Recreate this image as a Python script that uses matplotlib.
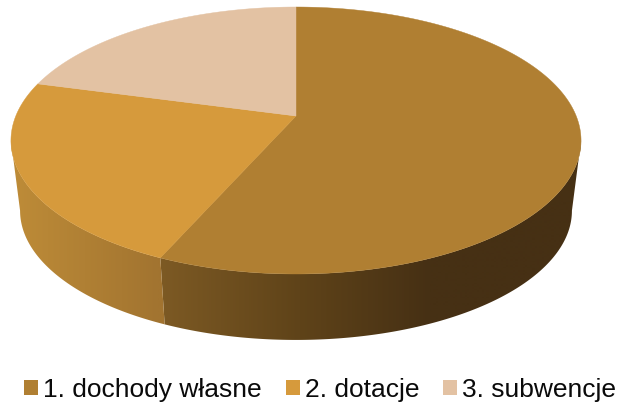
import numpy as np
import matplotlib
matplotlib.use("Agg")
import matplotlib.pyplot as plt
from matplotlib.patches import Polygon, Patch
from matplotlib.colors import to_rgb

plt.rcParams['font.family'] = ['Liberation Sans', 'DejaVu Sans']

categories = ["1. dochody własne", "2. dotacje", "3. subwencje"]
values = [56.6, 22.6, 20.8]
colors = ["#B07F32", "#D69A3C", "#E3C2A3"]

W, H = 617, 403
fig = plt.figure(figsize=(W / 100, H / 100), dpi=100)
ax = fig.add_axes([0, 0, 1, 1])

# projection of the tilted disc
K = 0.1835
A, B = 280.2, 129.0
CX, CY_TOP, CY_LOW, SHR = 296.0, 116.0, 187.0, 0.968


def project(theta, r=1.0, low=False):
    x = r * np.sin(theta)
    y = r * np.cos(theta)
    w = 1 + K * y
    s = SHR if low else 1.0
    cy = CY_LOW if low else CY_TOP
    return CX + s * A * x / w, cy - s * B * y / w


def gradient_wall(t0, t1, stops):
    t = np.linspace(t0, t1, 200)
    xa, ya = project(t)
    xb, yb = project(t[::-1], low=True)
    poly = Polygon(np.c_[np.r_[xa, xb], np.r_[ya, yb]], closed=True, fc="none", ec="none")
    ax.add_patch(poly)
    xs = np.arange(0, W + 1)
    xp = [s[0] for s in stops]
    rgb = np.array([to_rgb(s[1]) for s in stops])
    img = np.stack([np.interp(xs, xp, rgb[:, i]) for i in range(3)], axis=-1)[None, :, :]
    im = ax.imshow(img, extent=(0, W, H, 0), aspect="auto", interpolation="bilinear", zorder=1)
    im.set_clip_path(poly)


fractions = np.array(values) / sum(values)
edges = np.r_[0, np.cumsum(fractions)] * 2 * np.pi

t_right = np.arccos(-K)
t_left = 2 * np.pi - t_right

gradient_wall(t_right, edges[1], [(160, "#7D5A24"), (300, "#5F4319"), (430, "#463014"), (617, "#463014")])
gradient_wall(edges[1], t_left, [(11, "#BE8C38"), (158, "#A27430")])

for i, c in enumerate(colors):
    t = np.linspace(edges[i], edges[i + 1], 300)
    xs, ys = project(t)
    ax.add_patch(Polygon(np.c_[np.r_[CX, xs], np.r_[CY_TOP, ys]], closed=True,
                         fc=c, ec=c, lw=0.3, zorder=2))

ax.set_xlim(0, W)
ax.set_ylim(H, 0)
ax.axis("off")

handles = [Patch(fc=c, ec="none", label=l) for c, l in zip(colors, categories)]
ax.legend(handles=handles, ncol=3, loc="lower left", bbox_to_anchor=(24 / W, 1 / H),
          frameon=False, fontsize=19, handlelength=0.53, handleheight=0.53,
          handletextpad=0.2, columnspacing=0.9, borderpad=0, borderaxespad=0,
          labelcolor="#0A0A0A")

fig.savefig("out.png", dpi=100)
